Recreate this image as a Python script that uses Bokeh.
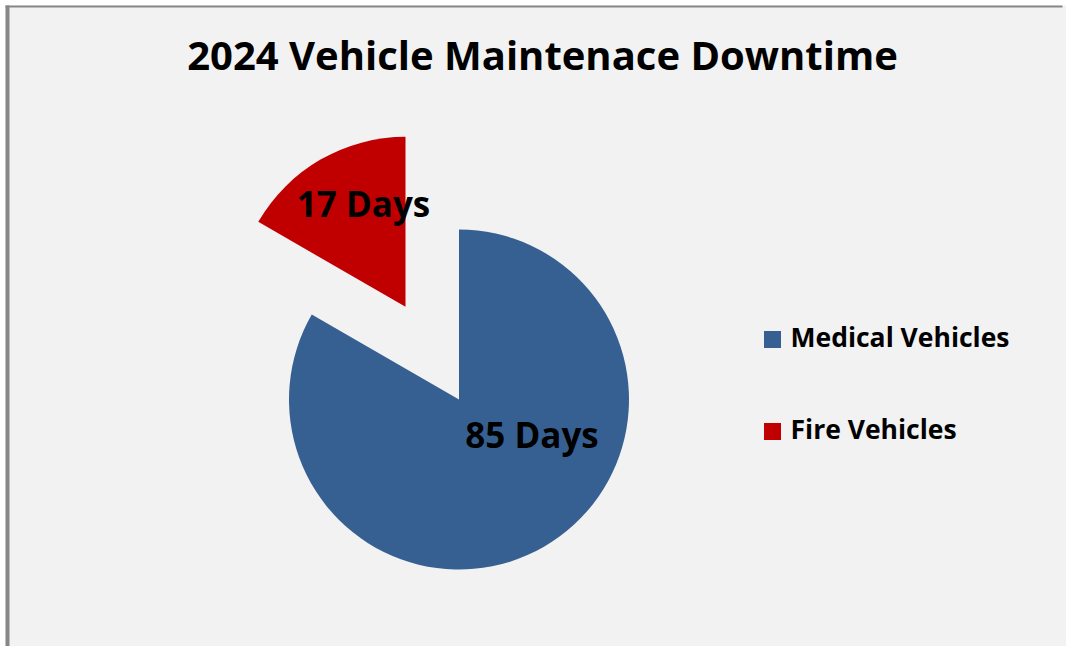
import math
from bokeh.plotting import figure
from bokeh.models import Range1d, ColumnDataSource
from bokeh.core.properties import value
from bokeh.embed import file_html
from bokeh.resources import INLINE

# ---- data ----
categories = ["Medical Vehicles", "Fire Vehicles"]
days = [85, 17]
labels = ["85 Days", "17 Days"]
colors = ["#376092", "#C00000"]
title_text = "2024 Vehicle Maintenace Downtime"

# ---- layout constants (page-pixel coordinate system) ----
W, H = 1066, 646
PAGE_H = 646
FONT = "Open Sans"
BG = "#F2F2F2"

def py(page_y):
    return PAGE_H - page_y

cx, cy = 458.5, py(399)
R = 170
explode = [0, 107]
label_offsets = [(73, -35), (-42, 103)]  # from slice apex to label anchor

p = figure(width=W, height=H, output_backend="svg", toolbar_location=None,
           x_range=Range1d(0, W), y_range=Range1d(PAGE_H - H, PAGE_H),
           min_border=0, background_fill_color="#FFFFFF", border_fill_color="#FFFFFF",
           outline_line_color=None)
p.axis.visible = False
p.grid.visible = False

# chart panel with left and top border
p.quad(left=[5], right=[W], bottom=[PAGE_H - H], top=[py(5)],
       fill_color=BG, line_color=None)
p.quad(left=[5, 5], right=[9, 1062], bottom=[PAGE_H - H, py(7)],
       top=[py(5), py(5)], fill_color="#878787", line_color=None)

total = sum(days)
start = math.pi / 2
xs, ys, sa, ea, lx, ly = [], [], [], [], [], []
for i, v in enumerate(days):
    frac = v / total
    end = start - 2 * math.pi * frac
    mid = (start + end) / 2
    ox = cx + explode[i] * math.cos(mid)
    oy = cy + explode[i] * math.sin(mid)
    xs.append(ox); ys.append(oy); sa.append(start); ea.append(end)
    lx.append(ox + label_offsets[i][0]); ly.append(oy + label_offsets[i][1])
    start = end

src = ColumnDataSource(dict(x=xs, y=ys, sa=sa, ea=ea, color=colors,
                            lx=lx, ly=ly, label=labels, cat=categories))
p.wedge(x="x", y="y", radius=R, start_angle="sa", end_angle="ea",
        direction="clock", fill_color="color", line_color=None, source=src)
p.text(x="lx", y="ly", text="label", source=src, text_font=value(FONT),
       text_font_style="bold", text_font_size="35px", text_color="#000000",
       text_align="center", text_baseline="alphabetic")

# title
p.text(x=[542], y=[py(53.5)], text=[title_text], text_font=value(FONT),
       text_font_style="bold", text_font_size="40px", text_color="#000000",
       text_align="center", text_baseline="alphabetic")

# legend
leg_x, leg_y0, leg_dy = 772, py(339), 92
leg_sq_y = [leg_y0 - i * leg_dy for i in range(len(categories))]
leg_txt_y = [y + 3 for y in leg_sq_y]
p.scatter(x=[leg_x] * len(categories), y=leg_sq_y, marker="square", size=17,
          fill_color=colors, line_color=None)
p.text(x=[leg_x + 18] * len(categories), y=leg_txt_y, text=categories,
       text_font=value(FONT), text_font_style="bold", text_font_size="26.5px",
       text_color="#000000", text_align="left", text_baseline="alphabetic")

open("out.html", "w").write(file_html(p, INLINE))
